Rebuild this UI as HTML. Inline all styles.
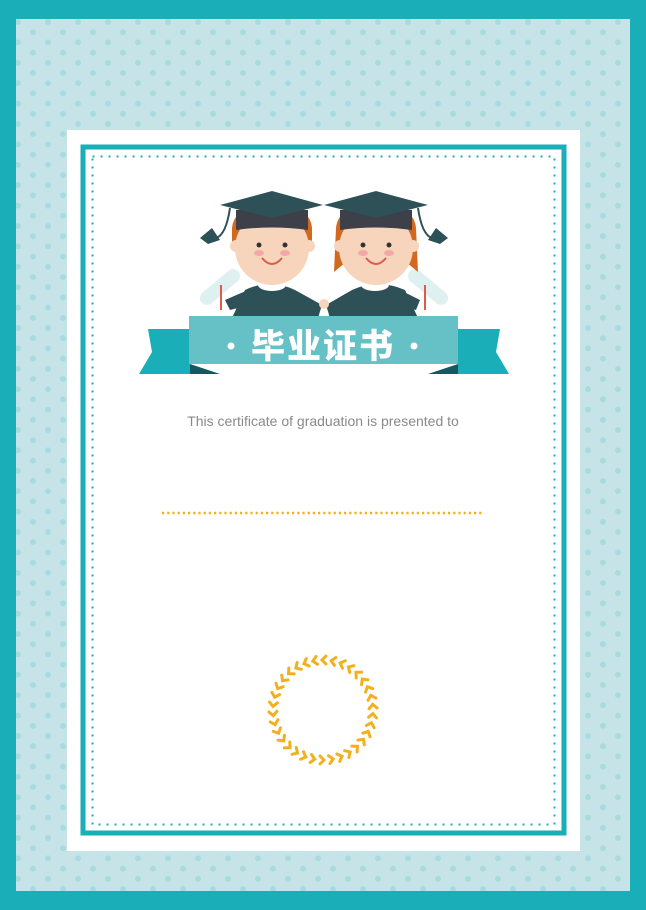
<!DOCTYPE html>
<html><head><meta charset="utf-8"><style>
html,body{margin:0;padding:0}
body{width:646px;height:910px;position:relative;overflow:hidden;background:#1aaeb8;font-family:"Liberation Sans","Noto Sans CJK SC",sans-serif}
</style></head><body>
<svg width="646" height="910" viewBox="0 0 646 910" style="position:absolute;left:0;top:0">
<defs>
<pattern id="dots" x="18" y="22" width="30" height="20.4" patternUnits="userSpaceOnUse">
<circle cx="0" cy="0" r="3" fill="#a8dbe0"/><circle cx="15" cy="10.2" r="3" fill="#a8dbe0"/><circle cx="30" cy="0" r="3" fill="#a8dbe0"/><circle cx="0" cy="20.4" r="3" fill="#a8dbe0"/><circle cx="30" cy="20.4" r="3" fill="#a8dbe0"/>
</pattern>
</defs>
<rect x="0" y="0" width="646" height="910" fill="#1aaeb8"/>
<rect x="16" y="19" width="614" height="872" fill="#c6e4e8"/>
<rect x="16" y="19" width="614" height="872" fill="url(#dots)"/>
<rect x="67" y="130" width="513" height="721" fill="#fff"/>
<rect x="83" y="147" width="481" height="686" fill="none" stroke="#1aaeb8" stroke-width="5"/>
<rect x="92.5" y="156.5" width="462" height="668" fill="none" stroke="#1aaeb8" stroke-width="2" stroke-dasharray="2 6"/>

<g>
<rect x="196" y="280" width="48" height="14" rx="7" fill="#dff0f1" transform="rotate(-40 220 287)"/>
<rect x="404" y="280" width="48" height="14" rx="7" fill="#dff0f1" transform="rotate(40 428 287)"/>
<line x1="221" y1="285" x2="221" y2="310" stroke="#e05a4a" stroke-width="2"/>
<line x1="425" y1="285" x2="425" y2="310" stroke="#e05a4a" stroke-width="2"/>
<path d="M232 318 L245 290 Q270 278 295 290 L322 305 L318 318 Z" fill="#2e5158"/>
<path d="M225 300 L248 290 L250 305 L230 310 Z" fill="#2e5158"/>
<path d="M418 318 L405 290 Q378 278 352 290 L326 305 L330 318 Z" fill="#2e5158"/>
<path d="M420 300 L400 290 L398 305 L416 310 Z" fill="#2e5158"/>
<ellipse cx="272" cy="285" rx="14" ry="6" fill="#fff"/>
<ellipse cx="375" cy="285" rx="14" ry="6" fill="#fff"/>
<circle cx="324" cy="304" r="5" fill="#f7d5bd"/>
<path d="M232 228 Q234 205 272 205 Q310 205 312 228 L312 250 L232 250 Z" fill="#d2691e"/>
<path d="M336 228 Q338 205 376 205 Q414 205 416 228 L418 272 L406 262 L346 262 L334 272 Z" fill="#d2691e"/>
<circle cx="272" cy="248" r="37" fill="#f7d5bd"/>
<circle cx="376" cy="248" r="37" fill="#f7d5bd"/>
<circle cx="236" cy="246" r="6" fill="#f7d5bd"/><circle cx="309" cy="246" r="6" fill="#f7d5bd"/>
<circle cx="340" cy="246" r="6" fill="#f7d5bd"/><circle cx="413" cy="246" r="6" fill="#f7d5bd"/>
<circle cx="259" cy="245" r="2.5" fill="#333"/><circle cx="285" cy="245" r="2.5" fill="#333"/>
<circle cx="363" cy="245" r="2.5" fill="#333"/><circle cx="389" cy="245" r="2.5" fill="#333"/>
<ellipse cx="259" cy="253" rx="5" ry="3" fill="#f4a7a7"/><ellipse cx="285" cy="253" rx="5" ry="3" fill="#f4a7a7"/>
<ellipse cx="363" cy="253" rx="5" ry="3" fill="#f4a7a7"/><ellipse cx="389" cy="253" rx="5" ry="3" fill="#f4a7a7"/>
<path d="M262 258 Q272 270 282 258" fill="none" stroke="#e05a4a" stroke-width="2"/>
<path d="M366 258 Q376 270 386 258" fill="none" stroke="#e05a4a" stroke-width="2"/>
<path d="M236 210 L308 210 L308 230 Q272 225 236 230 Z" fill="#3d3f49"/>
<path d="M340 210 L412 210 L412 230 Q376 225 340 230 Z" fill="#3d3f49"/>
<polygon points="220,205 272,191 323,205 272,218" fill="#2e5158"/>
<polygon points="324,205 376,191 428,205 376,218" fill="#2e5158"/>
<path d="M230 208 Q226 235 216 238" fill="none" stroke="#2e5158" stroke-width="2"/>
<polygon points="200,238 212,228 220,240 208,244" fill="#2e5158"/>
<path d="M418 208 Q422 235 432 238" fill="none" stroke="#2e5158" stroke-width="2"/>
<polygon points="448,238 436,228 428,240 440,244" fill="#2e5158"/>
</g>

<g>
<polygon points="148,329 190,329 190,374 139,374 152,352" fill="#1aaeb8"/>
<polygon points="190,364 220,374 190,374" fill="#105a60"/>
<polygon points="500,329 458,329 458,374 509,374 496,352" fill="#1aaeb8"/>
<polygon points="458,364 428,374 458,374" fill="#105a60"/>
<rect x="189" y="316" width="269" height="48" fill="#66c1c7"/>
<circle cx="231" cy="346" r="3.5" fill="#fff"/><circle cx="414" cy="346" r="3.5" fill="#fff"/>
<text x="323" y="358" text-anchor="middle" font-family="'Noto Sans CJK SC',sans-serif" font-weight="900" font-size="34" fill="#fff" letter-spacing="2">毕业证书</text>
</g>

<text x="323" y="426" text-anchor="middle" font-size="14" fill="#8a8a8a">This certificate of graduation is presented to</text>
<line x1="162" y1="513" x2="484" y2="513" stroke="#f2b01e" stroke-width="2.5" stroke-dasharray="2.2 3"/>

<g id="wreath"></g>
</svg>
<script>
var g=document.getElementById('wreath');
var n=34,cx=323,cy=710,r=50;
for(var i=0;i<n;i++){
  var a=i/n*360;
  var p=document.createElementNS('http://www.w3.org/2000/svg','path');
  
  
  p.setAttribute('d','M-4,-3 L0,1 L4,-3');
  p.setAttribute('fill','none');
  p.setAttribute('stroke','#f2b01e');
  p.setAttribute('stroke-width','3');
  p.setAttribute('stroke-linecap','round');
  var rad=a*Math.PI/180;
  var x=cx+r*Math.sin(rad),y=cy-r*Math.cos(rad);
  p.setAttribute('transform','translate('+x.toFixed(1)+','+y.toFixed(1)+') rotate('+(a+90).toFixed(1)+')');
  g.appendChild(p);
}
</script>
</body></html>
